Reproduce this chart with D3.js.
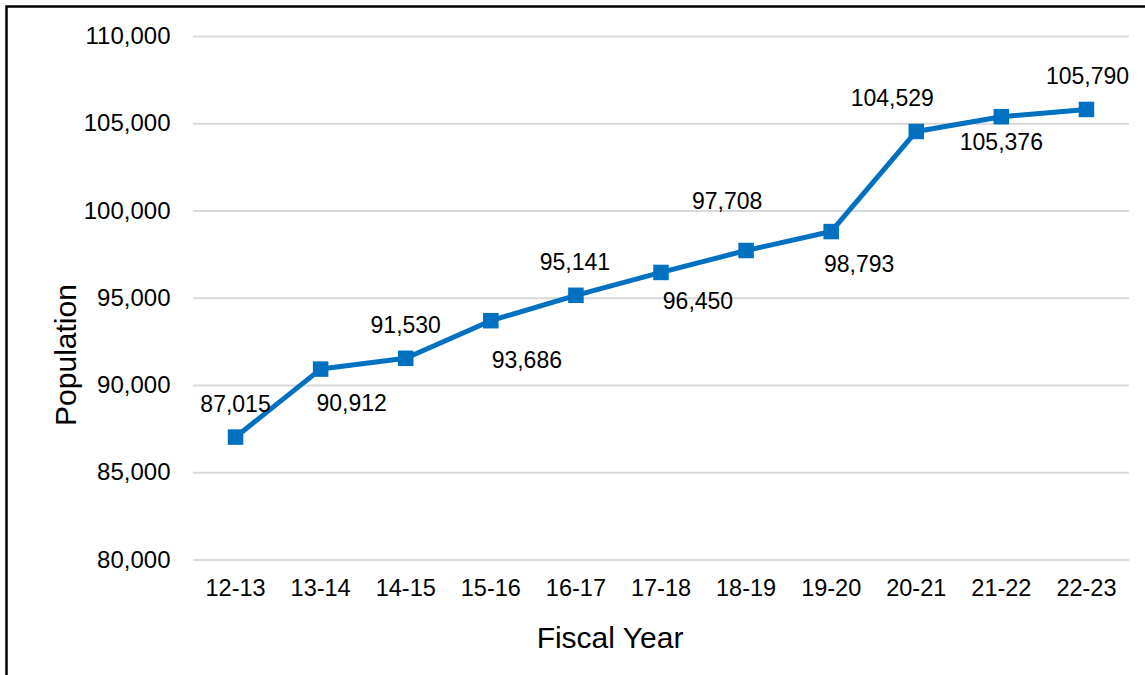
<!DOCTYPE html>
<html>
<head>
<meta charset="utf-8">
<script src="https://cdn.jsdelivr.net/npm/d3@7"></script>
<style>
  html, body { margin: 0; padding: 0; background: #fff; }
  svg { display: block; font-family: "Liberation Sans", Arial, sans-serif; }
</style>
</head>
<body>
<svg id="chart" width="1145" height="675"></svg>
<script>
// ---- data ----
const categories = ["12-13", "13-14", "14-15", "15-16", "16-17", "17-18", "18-19", "19-20", "20-21", "21-22", "22-23"];
const population = [87015, 90912, 91530, 93686, 95141, 96450, 97708, 98793, 104529, 105376, 105790];
const yTicks = [80000, 85000, 90000, 95000, 100000, 105000, 110000];
// label placement offsets relative to each point (layout only)
const labelDx = [0, 31, 0, 36, -1, 37, -19, 28, -24, 0, 1];
const labelDy = [-25, 42, -25, 47.7, -25.7, 36.6, -41.7, 40.6, -25.7, 33.3, -25];

const svg = d3.select("#chart");
const plot = { left: 193, right: 1129, top: 36, bottom: 559.5 };
const fmt = d3.format(",");
const FONT = "'Liberation Sans', Arial, sans-serif";

// outer border (left & top visible)
svg.append("rect")
  .attr("x", 6.5).attr("y", 6.5)
  .attr("width", 1300).attr("height", 1000)
  .attr("fill", "none").attr("stroke", "#000").attr("stroke-width", 2.5);

const x = d3.scaleBand().domain(categories).range([plot.left, plot.right]).padding(0);
const y = d3.scaleLinear().domain([80000, 110000]).range([plot.bottom, plot.top]);
const cx = c => x(c) + x.bandwidth() / 2;

// y axis with gridlines
const yAxis = svg.append("g")
  .attr("transform", `translate(${plot.left},0)`)
  .call(d3.axisLeft(y).tickValues(yTicks).tickFormat(fmt)
    .tickSizeInner(-(plot.right - plot.left)).tickSizeOuter(0).tickPadding(22.5));
yAxis.select(".domain").remove();
yAxis.selectAll(".tick line").attr("stroke", "#d9d9d9").attr("stroke-width", 2);
yAxis.selectAll(".tick text").attr("fill", "#000").style("font-size", "24px")
  .style("font-family", FONT);

// x axis
const xAxis = svg.append("g")
  .attr("transform", `translate(0,${plot.bottom})`)
  .call(d3.axisBottom(x).tickSize(0).tickPadding(19.5));
xAxis.select(".domain").remove();
xAxis.selectAll(".tick text").attr("fill", "#000").style("font-size", "23.5px")
  .style("font-family", FONT);

// line
const pts = categories.map((c, i) => ({ c, v: population[i], i }));
svg.append("path")
  .datum(pts)
  .attr("fill", "none")
  .attr("stroke", "#0070C0")
  .attr("stroke-width", 5)
  .attr("stroke-linejoin", "round")
  .attr("d", d3.line().x(d => cx(d.c)).y(d => y(d.v)));

// markers
const ms = 15.5;
svg.append("g").selectAll("rect")
  .data(pts).join("rect")
  .attr("x", d => cx(d.c) - ms / 2)
  .attr("y", d => y(d.v) - ms / 2)
  .attr("width", ms).attr("height", ms)
  .attr("fill", "#0070C0");

// data labels
svg.append("g").selectAll("text")
  .data(pts).join("text")
  .attr("x", d => cx(d.c) + labelDx[d.i])
  .attr("y", d => y(d.v) + labelDy[d.i])
  .attr("text-anchor", "middle")
  .attr("fill", "#000")
  .style("font-size", "23px")
  .text(d => fmt(d.v));

// axis titles
svg.append("text")
  .attr("x", 610).attr("y", 648)
  .attr("text-anchor", "middle")
  .attr("fill", "#000")
  .style("font-size", "30px")
  .text("Fiscal Year");

svg.append("text")
  .attr("transform", "translate(75.5,355) rotate(-90)")
  .attr("text-anchor", "middle")
  .attr("fill", "#000")
  .style("font-size", "30px")
  .text("Population");
</script>
</body>
</html>
